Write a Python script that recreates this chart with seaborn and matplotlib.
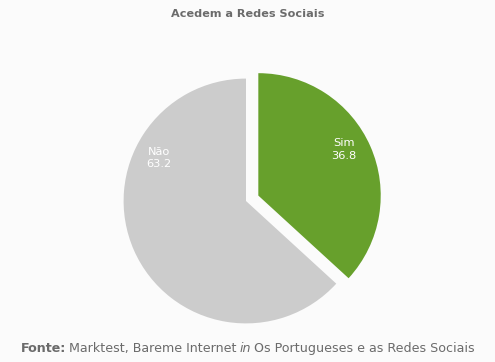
import matplotlib
matplotlib.use("Agg")
import matplotlib.pyplot as plt
import seaborn as sns

# Data
categories = ["Sim", "Não"]
shares = [36.8, 63.2]
slice_colors = ["#67a02c", "#cccccc"]
title_text = "Acedem a Redes Sociais"
source_parts = [("Fonte:", "bold", "normal"),
                ("Marktest, Bareme Internet", "normal", "normal"),
                ("in", "normal", "italic"),
                ("Os Portugueses e as Redes Sociais", "normal", "normal")]

sns.set_theme(style="white")
plt.rcParams['font.family'] = ['DejaVu Sans']

bg = "#fbfbfb"
text_grey = "#6b6b6b"

fig = plt.figure(figsize=(4.95, 3.62), dpi=100, facecolor=bg)
ax = fig.add_axes([93 / 495, 8 / 362, 306 / 495, 306 / 362])
ax.set_facecolor(bg)

wedges, _ = ax.pie(shares, colors=slice_colors, startangle=90, counterclock=False,
                   explode=[0.11, 0], wedgeprops=dict(linewidth=0))
ax.set_xlim(-1.25, 1.25)
ax.set_ylim(-1.25, 1.25)
ax.set_aspect("equal")
ax.axis("off")

# Slice labels
label_pos = [(0.80, 0.42), (-0.71, 0.35)]
for cat, val, (lx, ly) in zip(categories, shares, label_pos):
    ax.text(lx, ly, f"{cat}\n{val}", ha="center", va="center", fontsize=8.2,
            color="white", linespacing=1.3)

fig.text(0.5, 1 - 14 / 362, title_text, ha="center", va="center",
         fontsize=8.1, fontweight="bold", color=text_grey)

# Source line with mixed styles
fig.canvas.draw()
renderer = fig.canvas.get_renderer()
pieces = []
for txt, w, st in source_parts:
    t = fig.text(0, 1 - 352 / 362, txt, ha="left", va="baseline", fontsize=9.1,
                 fontweight=w, fontstyle=st, color=text_grey)
    pieces.append(t)
gap = 3.0
widths = [p.get_window_extent(renderer).width for p in pieces]
x = (495 - sum(widths) - gap * (len(pieces) - 1)) / 2
for p, w in zip(pieces, widths):
    p.set_x(x / 495)
    x += w + gap

fig.savefig("out.png", dpi=100, facecolor=bg)
